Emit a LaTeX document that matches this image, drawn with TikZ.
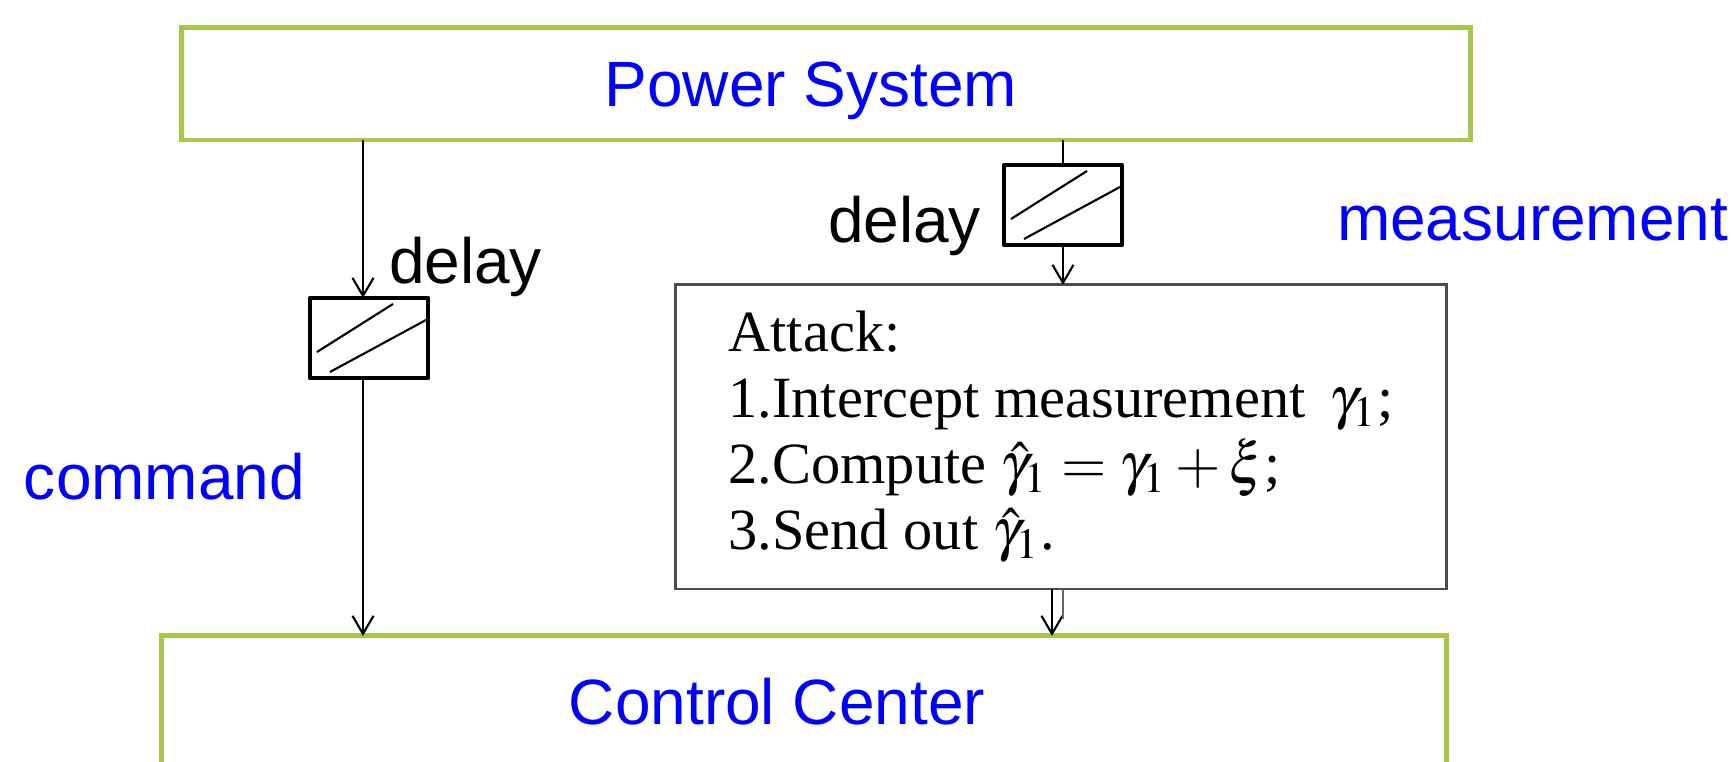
\documentclass[tikz,border=0pt]{standalone}
\usepackage{mathptmx}
\usepackage[no-math]{fontspec}
\setmainfont{Liberation Serif}
\newfontfamily\arialfont{Liberation Sans}
\usetikzlibrary{positioning,arrows.meta}
\definecolor{boxgreen}{RGB}{168,197,76}
\definecolor{labelblue}{RGB}{0,0,255}

\begin{document}
\begin{tikzpicture}[
    x=0.01cm, y=-0.01cm,
    every node/.style={inner sep=0pt, outer sep=0pt},
    sysBox/.style={rectangle, draw=boxgreen, line width=1.4pt, text=labelblue, text depth=0pt, font=\arialfont\fontsize{18.2}{22}\selectfont},
    delayBox/.style={rectangle, draw=black, line width=1.3pt, line join=round, minimum width=1.18cm, minimum height=0.8cm,
        path picture={
            \draw [line width=0.6pt] ([xshift=0.07cm, yshift=0.26cm]path picture bounding box.south west)
                -- ([xshift=0.83cm, yshift=0.74cm]path picture bounding box.south west);
            \draw [line width=0.6pt] ([xshift=0.20cm, yshift=0.06cm]path picture bounding box.south west)
                -- ([xshift=1.16cm, yshift=0.58cm]path picture bounding box.south west);
        }},
    attackBox/.style={rectangle, draw=black!70, line width=0.8pt, align=left, minimum width=7.7cm, minimum height=3.04cm, font=\fontsize{16.6}{18.8}\selectfont},
    blueLabel/.style={anchor=base west, text=labelblue, font=\arialfont\fontsize{18.2}{22}\selectfont},
    blackLabel/.style={anchor=base west, font=\arialfont\fontsize{18.2}{22}\selectfont},
    sigLine/.style={draw=black, line width=0.6pt, -{Straight Barb[length=1.8mm, width=2.1mm]}}
]
    \useasboundingbox (0,0) rectangle (1733,762);

    \node [sysBox, minimum width=12.88cm, minimum height=1.12cm] (power) at (826,84) {Power System\kern0.3cm};
    \node [sysBox, minimum width=12.84cm, minimum height=1.30cm] (control) at (804,701) {Control Center\kern0.54cm};

    \node [delayBox] (cmdDelay) at (369,338) {};
    \node [delayBox] (measDelay) at (1063,205) {};

    \node [attackBox] (attack) at (1061,437) {Attack:\\
        1.Intercept measurement\, $\gamma_1$;\\
        2.Compute $\hat{\gamma}_1=\gamma_1+\xi$;\\
        3.Send out $\hat{\gamma}_1$.};

    \node [blackLabel] (cmdDelayLabel) at (389,284) {delay};
    \node [blackLabel] (measDelayLabel) at (828,243) {delay};
    \node [blueLabel] (cmdLabel) at (24,500) {command};
    \node [blueLabel] (measLabel) at (1337,241) {measurement};

    % command path
    \coordinate (cmdIn) at ([xshift=-0.06cm]cmdDelay.north);
    \coordinate (cmdOut) at ([xshift=-0.06cm]cmdDelay.south);
    \path [sigLine] (power.south -| cmdIn) -- (cmdIn);
    \path [sigLine] (cmdOut) -- (cmdOut |- control.north);

    % measurement path
    \draw [line width=0.6pt] (power.south -| measDelay.north) -- (measDelay.north);
    \path [sigLine] (measDelay.south) -- (measDelay.south |- attack.north);
    \coordinate (attackOut) at ([xshift=-0.11cm]attack.south -| measDelay.south);
    \path [sigLine] (attackOut) -- (attackOut |- control.north);
    \draw [black!60, line width=0.8pt] (attack.south -| measDelay.south) -- ++(0,30);
\end{tikzpicture}
\end{document}
